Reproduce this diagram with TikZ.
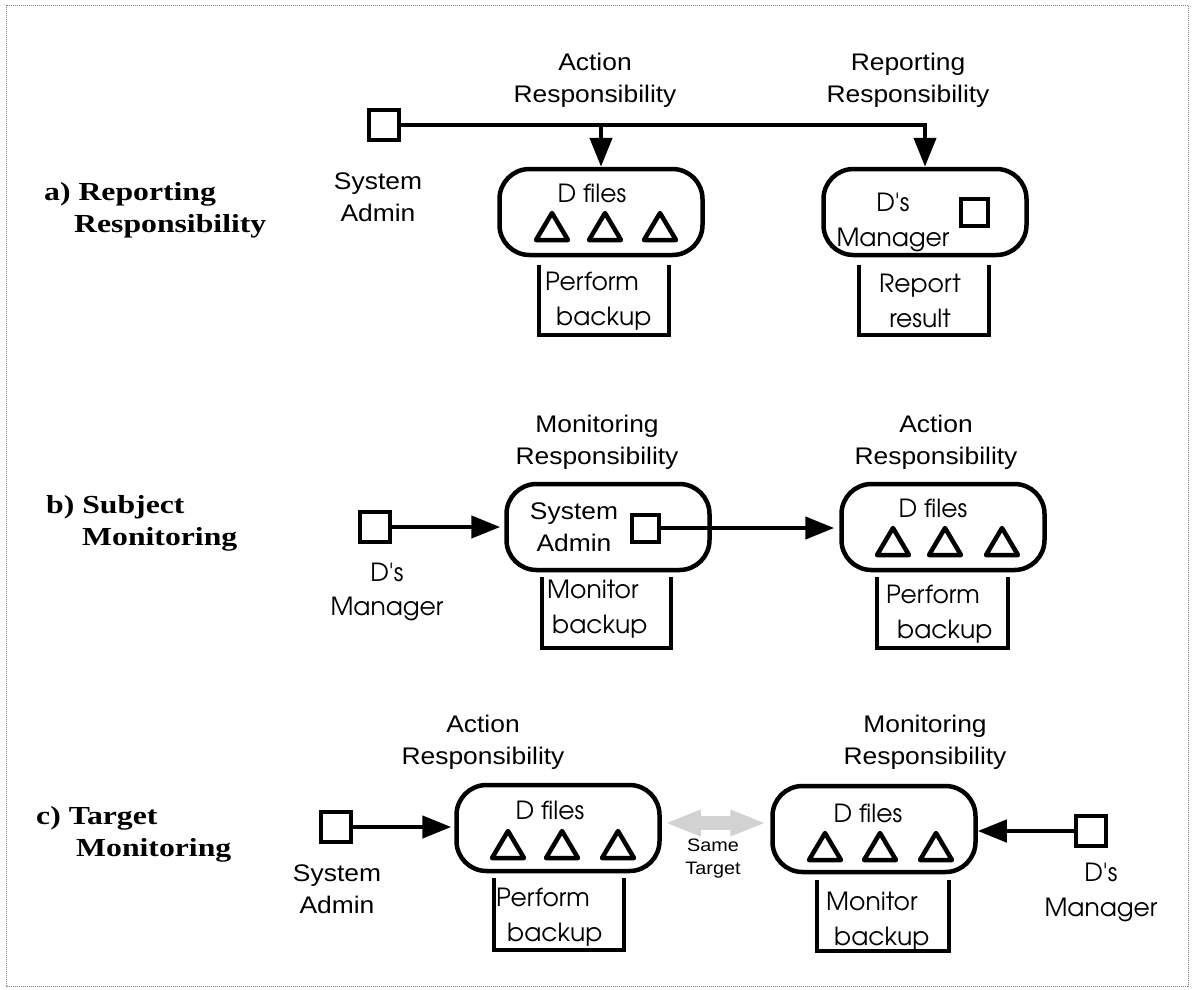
\documentclass[tikz,border=0pt]{standalone}
\usepackage{fontspec}
\setmainfont{Liberation Sans}[FakeStretch=1.1]
\newfontfamily\capfont{Liberation Serif}[FakeStretch=1.22]
\newfontfamily\boxfont{texgyreadventor-regular.otf}
\usetikzlibrary{arrows.meta}

\begin{document}
\begin{tikzpicture}[x=1pt,y=-1pt,
    role/.style={draw, line width=4pt, minimum size=30pt, inner sep=0pt},
    inrole/.style={draw, line width=4pt, minimum size=27pt, inner sep=0pt},
    unit/.style={draw, line width=4.5pt, rounded corners=30pt, minimum width=203pt, minimum height=86pt},
    tri/.style={line width=4.5pt, line join=round},
    task/.style={line width=4.5pt},
    flow/.style={line width=4.5pt, -{Triangle[length=29pt,width=22pt]}},
    same/.style={line width=14pt, draw=gray!35, {Triangle[length=36pt,width=24pt]}-{Triangle[length=36pt,width=24pt]}, shorten <=3pt, shorten >=4pt},
    lbl/.style={align=center, inner sep=0pt, font=\fontsize{24}{32}\selectfont},
    boxtxt/.style={align=center, inner sep=0pt, font=\boxfont\fontsize{25}{35}\selectfont},
    tasktxt/.style={align=left, anchor=west, inner sep=0pt, font=\boxfont\fontsize{25}{35}\selectfont},
    sect/.style={align=left, anchor=west, inner sep=0pt, font=\capfont\bfseries\fontsize{26}{32}\selectfont}]
  \useasboundingbox (0,0) rectangle (1192,989);
  \draw[gray, densely dotted, line width=1pt] (6,5) rectangle (1188,986);

  % a) reporting responsibility
  \node[sect] (seca) at (44,210) {a) Reporting\\\hspace*{30pt}Responsibility};
  \node[role] (sa1) at (384,125) {};
  \node[lbl] (sa1txt) at (378,197) {System\\Admin};
  \node[unit] (fa) at (601,212) {};
  \node[unit] (mgra) at (925,212) {};
  \node[lbl] (acta) at (595,80) {Action\\Responsibility};
  \node[lbl] (repa) at (908,80) {Reporting\\Responsibility};
  \node[boxtxt] (fatxt) at (592,193) {D files};
  \node[boxtxt] (mgratxt) at (893,222) {D's\\Manager};
  \node[inrole] (mgra1) at (974,212) {};
  \foreach \x in {552,605,660}
    \draw[tri] (\x-16,240) -- (\x,213) -- (\x+16,240) -- cycle;
  \draw[task] (539,265) -- (539,335) -- (669,335) -- (669,265);
  \draw[task] (859,265) -- (859,335) -- (989,335) -- (989,265);
  \node[tasktxt] (taska1) at (545,301) {Perform\\\hspace*{11pt}backup};
  \node[lbl, font=\boxfont\fontsize{25}{35}\selectfont] (taska2) at (920,301) {Report\\result};
  \draw[flow] (sa1.east) -| (mgra.north);
  \draw[flow] (sa1.east -| fa.north) -- (fa.north);

  % b) subject monitoring
  \node[sect] (secb) at (46,523) {b) Subject\\\hspace*{36pt}Monitoring};
  \node[role] (mgrb) at (375,527) {};
  \node[boxtxt, font=\boxfont\fontsize{25}{34}\selectfont] (mgrbtxt) at (387,592) {D's\\Manager};
  \node[unit] (sab) at (608,527) {};
  \node[unit] (fb) at (943,527) {};
  \node[lbl] (monb) at (597,442) {Monitoring\\Responsibility};
  \node[lbl] (actb) at (936,442) {Action\\Responsibility};
  \node[lbl] (sabtxt) at (574,527) {System\\Admin};
  \node[inrole] (sab1) at (645,528) {};
  \node[boxtxt] (fbtxt) at (933,508) {D files};
  \foreach \x in {893,945,1002}
    \draw[tri] (\x-16,555) -- (\x,528) -- (\x+16,555) -- cycle;
  \draw[task] (542,577) -- (542,648) -- (671,648) -- (671,577);
  \draw[task] (877,577) -- (877,648) -- (1008,648) -- (1008,577);
  \node[tasktxt] (taskb1) at (547,609) {Monitor\\\hspace*{5pt}backup};
  \node[tasktxt] (taskb2) at (886,614) {Perform\\\hspace*{11pt}backup};
  \draw[flow, shorten >=4pt] (mgrb.east) -- (mgrb.east -| sab.west);
  \draw[flow, shorten >=5pt] (sab1.east) -- (sab1.east -| fb.west);

  % c) target monitoring
  \node[sect] (secc) at (36,834) {c) Target\\\hspace*{40pt}Monitoring};
  \node[role] (sac) at (336,827) {};
  \node[lbl] (sactxt) at (337,889) {System\\Admin};
  \node[unit] (fc1) at (558,828) {};
  \node[unit] (fc2) at (874,829) {};
  \node[lbl] (actc) at (483,742) {Action\\Responsibility};
  \node[lbl] (monc) at (925,742) {Monitoring\\Responsibility};
  \node[boxtxt] (fc1txt) at (550,810) {D files};
  \node[boxtxt] (fc2txt) at (868,813) {D files};
  \foreach \x in {508,562,618}
    \draw[tri] (\x-16,858) -- (\x,831) -- (\x+16,858) -- cycle;
  \foreach \x in {825,880,936}
    \draw[tri] (\x-16,860) -- (\x,833) -- (\x+16,860) -- cycle;
  \draw[task] (494,878) -- (494,950) -- (624,950) -- (624,878);
  \draw[task] (817,880) -- (817,951) -- (949,951) -- (949,880);
  \node[tasktxt] (taskc1) at (496,917) {Perform\\\hspace*{11pt}backup};
  \node[tasktxt] (taskc2) at (826,921) {Monitor\\\hspace*{8pt}backup};
  \node[role] (mgrc) at (1091,831) {};
  \node[boxtxt] (mgrctxt) at (1101,892) {D's\\Manager};
  \draw[flow, shorten >=3pt] (sac.east) -- (sac.east -| fc1.west);
  \draw[flow] (mgrc.west) -- (mgrc.west -| fc2.east);
  \draw[same] ([yshift=5pt]fc1.east) -- ([yshift=5pt]fc1.east -| fc2.west);
  \node[lbl, font=\fontsize{18}{23}\selectfont] (samec) at (713,859) {Same\\Target};
\end{tikzpicture}
\end{document}
